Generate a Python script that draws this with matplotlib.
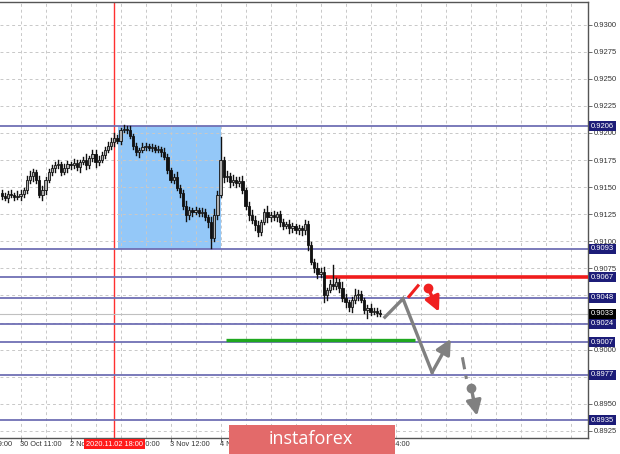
import matplotlib
matplotlib.use("Agg")
import matplotlib.pyplot as plt
import matplotlib.transforms as mtransforms
from matplotlib.patches import Rectangle

# hourly bars (open of each bar = previous close)
first_open = 0.9145
closes = [0.9142, 0.9140, 0.9144,
          0.9143, 0.9141, 0.9142, 0.9144, 0.9147, 0.9157, 0.9160, 0.9164, 0.9157, 0.9143,
          0.9147, 0.9157, 0.9164, 0.9168, 0.9170,
          0.9171, 0.9164, 0.9168, 0.9171, 0.9170, 0.9172, 0.9169, 0.9173, 0.9175, 0.9170,
          0.9177, 0.9181, 0.9173, 0.9175,
          0.9180, 0.9184, 0.9188, 0.9192, 0.9195, 0.9193, 0.9203, 0.9204, 0.9203, 0.9197,
          0.9188, 0.9182, 0.9184, 0.9187, 0.9188, 0.9186, 0.9187, 0.9184, 0.9185, 0.9182,
          0.9178, 0.9166, 0.9157, 0.9159, 0.9149, 0.9145, 0.9133, 0.9124, 0.9129, 0.9127,
          0.9129, 0.9126, 0.9127, 0.9122, 0.9118, 0.9103, 0.9124, 0.9143, 0.9175, 0.9159,
          0.9160, 0.9155, 0.9157, 0.9154, 0.9156, 0.9147, 0.9133, 0.9124, 0.9120, 0.9115,
          0.9109, 0.9118, 0.9127, 0.9122, 0.9124, 0.9122, 0.9125, 0.9118, 0.9114, 0.9116,
          0.9112, 0.9114, 0.9110, 0.9112, 0.9110, 0.9116, 0.9097, 0.9081, 0.9075, 0.9070,
          0.9072, 0.9050, 0.9055, 0.9061, 0.9059, 0.9062, 0.9057, 0.9048, 0.9044, 0.9039,
          0.9046, 0.9050, 0.9051, 0.9046, 0.9037, 0.9038, 0.9035, 0.9036, 0.9034, 0.9033]
# wick lengths in pips
wick_up = [2, 3, 2, 3, 2, 4, 3, 2, 3, 5,
           3, 2, 3, 4, 2, 3, 2, 3, 4, 2,
           3, 3, 2, 4, 3, 2, 3, 6, 2, 3,
           3, 4, 2, 3, 4, 3, 5, 3, 2, 3,
           2, 3, 2, 3, 2, 4, 3, 2, 3, 2,
           3, 2, 4, 3, 2, 3, 5, 3, 2, 4,
           3, 2, 3, 2, 4, 3, 2, 4, 6, 3,
           21, 3, 5, 3, 4, 2, 3, 4, 2, 3,
           5, 3, 4, 2, 3, 6, 3, 4, 2, 3,
           3, 2, 4, 3, 2, 3, 2, 4, 3, 2,
           3, 5, 3, 4, 2, 3, 17, 4, 3, 5,
           3, 2, 3, 6, 4, 3, 2, 3, 4, 2,
           2, 3]
wick_dn = [3, 2, 4, 2, 3, 2, 4, 3, 2, 3,
           4, 3, 2, 5, 3, 2, 3, 4, 2, 3,
           2, 4, 3, 2, 3, 5, 2, 3, 2, 3,
           4, 3, 2, 3, 2, 3, 4, 2, 3, 2,
           3, 2, 3, 2, 4, 2, 3, 2, 3, 2,
           2, 3, 2, 3, 2, 3, 2, 4, 3, 5,
           3, 4, 2, 3, 3, 2, 5, 9, 3, 3,
           2, 4, 3, 5, 3, 4, 3, 2, 3, 4,
           3, 5, 4, 3, 2, 4, 3, 2, 3, 4,
           3, 2, 4, 3, 2, 3, 4, 3, 5, 2,
           3, 4, 3, 6, 4, 2, 3, 3, 4, 3,
           5, 3, 4, 3, 4, 2, 3, 8, 3, 2,
           3, 2]

levels = [0.9206, 0.9093, 0.9067, 0.9048, 0.9024, 0.9007, 0.8977, 0.8935]
last_price = 0.9033
price_ticks = [0.8925, 0.8950, 0.8975, 0.9000, 0.9025, 0.9050, 0.9075, 0.9100,
               0.9125, 0.9150, 0.9175, 0.9200, 0.9225, 0.9250, 0.9275, 0.9300]

zone_bars = [37.2, 70.2]
zone_prices = [0.9093, 0.9206]
signal_bar = 36
signal_label = "2020.11.02 18:00"
red_level, red_from = 0.9067, 103.4
green_level, green_span = 0.9009, [71.8, 132.2]

# time labels; the ones under the logo are not visible in the original
tick_bars = [6, 22, 38, 54, 70, 86, 102, 118]
date_bars = [-10, 6, 22, 38, 54, 70, 118]
date_labels = ["29 Oct 19:00", "30 Oct 11:00", "2 Nov 03:00", "2 Nov 20:00", "3 Nov 12:00",
               "4 Nov 04:00", "6 Nov 04:00"]

# forecast drawing
gray_path_x = [122.6, 128.4, 137.7]
gray_path_y = [0.9030, 0.9047, 0.8979]
gray_up_end = (143.7, 0.9010)
gray_dash_x = [147.4, 148.7]
gray_dash_y = [0.8993, 0.8973]
gray_dot = (150.2, 0.8965)
gray_dn_end = (152.1, 0.8939)
red_stroke_x = [130.3, 133.2]
red_stroke_y = [0.9049, 0.9059]
red_dot = (136.4, 0.9057)
red_dn_end = (139.9, 0.9035)

W, H = 620, 454
fig = plt.figure(figsize=(W / 100, H / 100), dpi=100)
ax = fig.add_axes([0, 16 / H, 588 / W, 436 / H])
ax.set_xlim(-0.56, 187.6)
ax.set_ylim(0.89185, 0.93208)

for s in ["top", "right", "bottom"]:
    ax.spines[s].set_color("#555555")
    ax.spines[s].set_linewidth(1)
ax.spines["left"].set_visible(False)

# grid
for gx in range(6, 188, 8):
    ax.axvline(gx, color="#c8c8c8", lw=0.7, ls=(0, (3, 3)), zorder=1)
for gy in price_ticks:
    ax.axhline(gy, color="#c8c8c8", lw=0.7, ls=(0, (3, 3)), zorder=1)

# zone rectangle
ax.add_patch(Rectangle((zone_bars[0], zone_prices[0]), zone_bars[1] - zone_bars[0],
                       zone_prices[1] - zone_prices[0], facecolor="#94c8f8",
                       edgecolor="none", zorder=0.5))

ax.axvline(signal_bar, color="#ff3030", lw=1, zorder=2)

for lv in levels:
    ax.axhline(lv, color="#6f6fb4", lw=1.3, zorder=2)
ax.axhline(last_price, color="#c0c0c0", lw=0.8, zorder=2)
ax.plot([red_from, 187.6], [red_level, red_level], color="#f01c1c", lw=2.6, zorder=3,
        solid_capstyle="butt")
ax.plot(green_span, [green_level, green_level], color="#1fa81f", lw=2.4, zorder=3,
        solid_capstyle="butt")

# candles
opens = [first_open] + closes[:-1]
for i, (o, c) in enumerate(zip(opens, closes)):
    hi = max(o, c) + wick_up[i] * 0.0001
    lo = min(o, c) - wick_dn[i] * 0.0001
    ax.plot([i, i], [lo, hi], color="#111111", lw=1.0, zorder=4)
    body = c - o if abs(c - o) > 0.00005 else 0.00005
    ax.bar(i, body, bottom=o, width=0.72, color="#b0b0b0" if c >= o else "#111111",
           edgecolor="#111111", linewidth=0.6, zorder=5)

# forecast lines
gray = "#808080"
ax.plot(gray_path_x, gray_path_y, color=gray, lw=2.4, zorder=6, solid_joinstyle="miter")
arrow = dict(arrowstyle="-|>,head_length=0.9,head_width=0.45", lw=2.4,
             mutation_scale=10, shrinkA=0, shrinkB=0)
ax.annotate("", xy=gray_up_end, xytext=(gray_path_x[-1], gray_path_y[-1]),
            arrowprops=dict(color=gray, **arrow), zorder=6)
ax.plot(gray_dash_x, gray_dash_y, color=gray, lw=2.2, ls=(0, (4, 2)), zorder=6)
ax.plot(*gray_dot, "o", color=gray, ms=6, zorder=6)
ax.annotate("", xy=gray_dn_end, xytext=gray_dot, arrowprops=dict(color=gray, **arrow), zorder=6)

red = "#f02020"
ax.plot(red_stroke_x, red_stroke_y, color=red, lw=2.2, zorder=6)
ax.plot(*red_dot, "o", color=red, ms=6, zorder=6)
ax.annotate("", xy=red_dn_end, xytext=red_dot, arrowprops=dict(color=red, **arrow), zorder=6)

# price axis
fnt = ["Liberation Sans", "DejaVu Sans"]
ax.yaxis.tick_right()
ax.set_yticks(price_ticks)
ax.set_yticklabels([f"{p:.4f}" for p in price_ticks], fontsize=5.5, color="#333333",
                   family=fnt)
ax.tick_params(axis="y", length=3, width=0.6, pad=1.5, colors="#555555")
ax.tick_params(axis="y", labelcolor="#333333")

ytr = mtransforms.blended_transform_factory(ax.transAxes, ax.transData)
for lv in levels:
    ax.text(1.005, lv, f"{lv:.4f}", transform=ytr, va="center", ha="left", fontsize=5.5,
            family=fnt, color="white", zorder=10, clip_on=False,
            bbox=dict(boxstyle="square,pad=0.2", fc="#1c1c78", ec="none"))
ax.text(1.005, last_price, f"{last_price:.4f}", transform=ytr, va="center", ha="left",
        fontsize=5.5, family=fnt, color="white", zorder=11, clip_on=False,
        bbox=dict(boxstyle="square,pad=0.2", fc="black", ec="none"))

# time axis
ax.set_xticks(tick_bars)
ax.set_xticklabels([])
ax.tick_params(axis="x", length=3, width=0.6, colors="#555555")
xtr = mtransforms.blended_transform_factory(ax.transData, ax.transAxes)
for b, lab in zip(date_bars, date_labels):
    ax.text(b, -0.0138, lab, transform=xtr, va="center", ha="left", fontsize=5.3,
            family=fnt, color="#333333", clip_on=False)
ax.text(signal_bar, -0.0138, signal_label, transform=xtr, va="center", ha="center",
        fontsize=5.3, family=fnt, color="white", clip_on=False, zorder=10,
        bbox=dict(boxstyle="square,pad=0.25", fc="#ff1a1a", ec="none"))

# logo
fig.add_artist(Rectangle((229 / W, 0), 166 / W, 29 / H, transform=fig.transFigure,
                         facecolor="#e36a6a", edgecolor="none", zorder=20))
fig.text(311 / W, 15 / H, "instaforex", ha="center", va="center", color="white",
         fontsize=13, family=["Open Sans", "DejaVu Sans"], zorder=21)

fig.savefig("out.png", dpi=100)
